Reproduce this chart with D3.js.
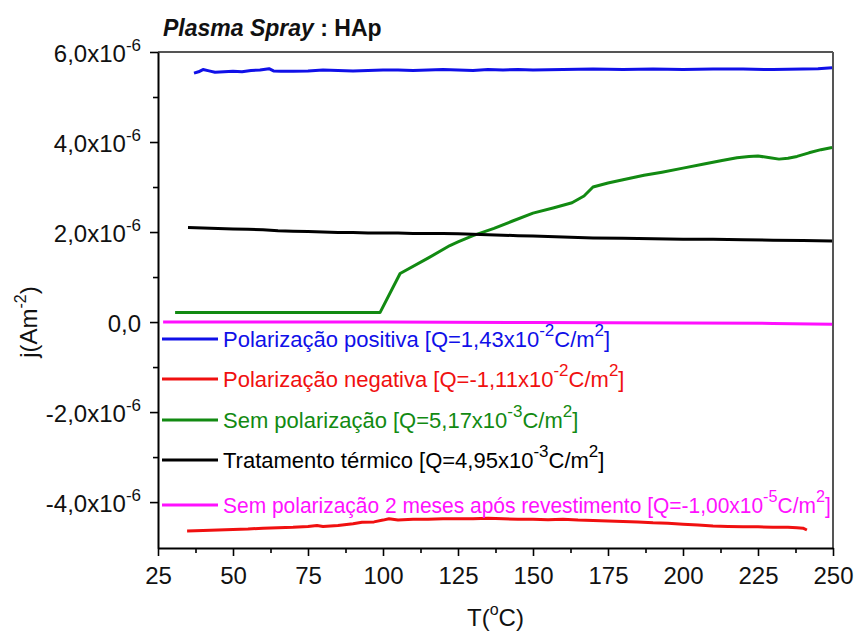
<!DOCTYPE html>
<html>
<head>
<meta charset="utf-8">
<script src="https://cdn.jsdelivr.net/npm/d3@7"></script>
<style>
  body { margin: 0; background: #fff; }
  text { font-family: "Liberation Sans", Arial, Helvetica, sans-serif; }
</style>
</head>
<body>
<svg id="chart" width="856" height="635"></svg>
<script>
// Current density j in units of 1e-6 A/m^2 against temperature T (°C)

// Polarização positiva
const tPositive = [37, 38.5, 40, 42, 44, 47, 50, 53, 56, 59, 62, 63.5, 66, 70, 75, 80, 85, 90, 95, 100,
  105, 110, 115, 120, 125, 130, 135, 140, 145, 150, 160, 170, 180, 190, 200, 210, 220, 230, 240, 245, 249.7];
const jPositive = [5.53, 5.56, 5.61, 5.58, 5.55, 5.56, 5.57, 5.56, 5.59, 5.60, 5.63, 5.58, 5.57, 5.57, 5.58,
  5.60, 5.59, 5.58, 5.59, 5.60, 5.60, 5.59, 5.60, 5.61, 5.60, 5.59, 5.61, 5.60, 5.61, 5.60, 5.61, 5.62,
  5.61, 5.62, 5.61, 5.62, 5.62, 5.61, 5.62, 5.63, 5.65];

// Polarização negativa
const tNegative = [34.7, 40, 45, 50, 55, 60, 65, 70, 75, 78, 80, 85, 90, 93, 97, 100, 102, 105, 110, 115,
  120, 125, 130, 135, 140, 145, 150, 155, 160, 165, 170, 175, 180, 185, 190, 195, 200, 205, 210, 215,
  220, 225, 230, 235, 238, 240, 241.3];
const jNegative = [-4.64, -4.63, -4.62, -4.61, -4.60, -4.58, -4.57, -4.56, -4.54, -4.52, -4.54, -4.52,
  -4.48, -4.45, -4.44, -4.40, -4.37, -4.40, -4.38, -4.38, -4.37, -4.37, -4.37, -4.36, -4.37, -4.38,
  -4.38, -4.39, -4.38, -4.40, -4.41, -4.42, -4.43, -4.44, -4.46, -4.47, -4.49, -4.51, -4.53, -4.54,
  -4.55, -4.55, -4.56, -4.56, -4.57, -4.58, -4.62];

// Sem polarização
const tNone = [30.7, 60, 99, 105.7, 115, 122.3, 125, 130, 137, 143, 150, 157, 163, 167, 170, 175, 180,
  187, 193, 200, 207, 213, 218, 222, 225, 229, 232, 235, 238, 242, 246, 249.7];
const jNone = [0.21, 0.21, 0.21, 1.08, 1.42, 1.70, 1.78, 1.92, 2.08, 2.24, 2.42, 2.54, 2.65, 2.80, 3.00,
  3.09, 3.16, 3.26, 3.33, 3.42, 3.51, 3.59, 3.65, 3.68, 3.69, 3.65, 3.62, 3.64, 3.68, 3.76, 3.83, 3.88];

// Tratamento térmico
const tThermal = [35, 40, 45, 50, 55, 60, 65, 70, 75, 80, 85, 90, 95, 100, 105, 110, 115, 120, 125, 130,
  135, 140, 145, 150, 160, 170, 180, 190, 200, 210, 220, 230, 240, 249.7];
const jThermal = [2.10, 2.09, 2.08, 2.07, 2.06, 2.05, 2.03, 2.02, 2.01, 2.00, 1.99, 1.99, 1.98, 1.98,
  1.98, 1.97, 1.97, 1.97, 1.96, 1.95, 1.94, 1.93, 1.92, 1.91, 1.89, 1.87, 1.86, 1.85, 1.84, 1.84, 1.83,
  1.82, 1.81, 1.80];

// Sem polarização 2 meses após revestimento
const tAged = [26.7, 50, 100, 150, 200, 230, 249.7];
const jAged = [0.0, 0.0, 0.0, -0.01, -0.02, -0.03, -0.05];

// Legend entries: label text, charge mantissa and exponent
const legendNames = ["Polarização positiva", "Polarização negativa", "Sem polarização",
  "Tratamento térmico", "Sem polarização 2 meses após revestimento"];
const legendCharges = ["1,43", "-1,11", "5,17", "4,95", "-1,00"];
const legendExponents = ["-2", "-2", "-3", "-3", "-5"];

const xTicks = [25, 50, 75, 100, 125, 150, 175, 200, 225, 250];
const yTicks = [6, 4, 2, 0, -2, -4];
const yTickMantissa = ["6,0", "4,0", "2,0", "0,0", "-2,0", "-4,0"];

const colors = { positive: "#1010e8", negative: "#f01010", none: "#128a12", thermal: "#000000", aged: "#ff10ff" };

const svg = d3.select("#chart");
const plotLeft = 158, plotRight = 833, plotTop = 52, plotBottom = 548;

const x = d3.scaleLinear().domain([25, 250]).range([plotLeft, plotRight]);
const y = d3.scaleLinear().domain([-5.02, 6]).range([plotBottom, plotTop]);

// Frame: top and right edges
svg.append("line").attr("x1", plotLeft).attr("x2", plotRight).attr("y1", plotTop).attr("y2", plotTop)
  .attr("stroke", "#555").attr("stroke-width", 2);
svg.append("line").attr("x1", plotRight).attr("x2", plotRight).attr("y1", plotTop).attr("y2", plotBottom)
  .attr("stroke", "#555").attr("stroke-width", 2);

// Y axis, major and minor ticks
const yMinor = [5, 3, 1, -1, -3];
svg.append("g").attr("transform", `translate(${plotLeft},0)`)
  .call(d3.axisLeft(y).tickValues(yMinor).tickSize(5).tickSizeOuter(0).tickFormat(""))
  .call(g => g.select(".domain").remove())
  .call(g => g.selectAll("line").attr("stroke", "#000").attr("stroke-width", 1.6));

const yAxis = svg.append("g").attr("transform", `translate(${plotLeft},0)`)
  .call(d3.axisLeft(y).tickValues(yTicks).tickSize(8).tickSizeOuter(0).tickPadding(9).tickFormat(""));
yAxis.select(".domain").attr("stroke", "#000").attr("stroke-width", 2);
yAxis.selectAll("line").attr("stroke", "#000").attr("stroke-width", 1.6);
yAxis.selectAll(".tick text").each(function (d, i) {
  const t = d3.select(this).attr("font-size", 24).attr("fill", "#111").attr("dy", "0.4em")
    .attr("font-family", "'Liberation Sans', Arial, sans-serif");
  t.append("tspan").text(d === 0 ? "0,0" : yTickMantissa[i] + "x10");
  if (d !== 0) {
    t.append("tspan").attr("font-size", 17).attr("dy", -11).text("-6");
  }
});

// X axis, major and minor ticks
const xMinor = d3.range(37.5, 250, 25);
svg.append("g").attr("transform", `translate(0,${plotBottom})`)
  .call(d3.axisBottom(x).tickValues(xMinor).tickSize(5).tickSizeOuter(0).tickFormat(""))
  .call(g => g.select(".domain").remove())
  .call(g => g.selectAll("line").attr("stroke", "#000").attr("stroke-width", 1.6));

const xAxis = svg.append("g").attr("transform", `translate(0,${plotBottom})`)
  .call(d3.axisBottom(x).tickValues(xTicks).tickSize(8).tickSizeOuter(0).tickPadding(11));
xAxis.select(".domain").attr("stroke", "#000").attr("stroke-width", 2);
xAxis.selectAll("line").attr("stroke", "#000").attr("stroke-width", 1.6);
xAxis.selectAll("text").attr("font-size", 24).attr("fill", "#111")
  .attr("font-family", "'Liberation Sans', Arial, sans-serif");

// Axis titles
const xTitle = svg.append("text").attr("x", (plotLeft + plotRight) / 2).attr("y", 626)
  .attr("text-anchor", "middle").attr("font-size", 24).attr("fill", "#111");
xTitle.append("tspan").text("T(");
xTitle.append("tspan").attr("font-size", 16).attr("dy", -11).text("o");
xTitle.append("tspan").attr("dy", 11).text("C)");

const yTitle = svg.append("text").attr("transform", `translate(37,${y(0)}) rotate(-90)`)
  .attr("text-anchor", "middle").attr("font-size", 24).attr("fill", "#111");
yTitle.append("tspan").text("j(Am");
yTitle.append("tspan").attr("font-size", 16).attr("dy", -11).text("-2");
yTitle.append("tspan").attr("dy", 11).text(")");

// Chart title
const title = svg.append("text").attr("x", 163).attr("y", 36)
  .attr("font-size", 23).attr("font-weight", "bold").attr("fill", "#111");
title.append("tspan").attr("font-style", "italic").text("Plasma Spray");
title.append("tspan").text(" : HAp");

// Data curves
const series = [
  { t: tPositive, j: jPositive, color: colors.positive },
  { t: tNegative, j: jNegative, color: colors.negative },
  { t: tNone, j: jNone, color: colors.none },
  { t: tThermal, j: jThermal, color: colors.thermal },
  { t: tAged, j: jAged, color: colors.aged }
];
const line = d3.line().x(d => x(d[0])).y(d => y(d[1]));
svg.append("g").selectAll("path")
  .data(series)
  .join("path")
  .attr("d", s => line(s.t.map((tv, i) => [tv, s.j[i]])))
  .attr("fill", "none")
  .attr("stroke", s => s.color)
  .attr("stroke-width", 3)
  .attr("stroke-linejoin", "round");

// Legend: each label is narrowed if it would run past the right edge of the frame
const legendY = [339, 379, 420, 460, 505];
const legendX = 162, labelX = 61;
const legend = svg.append("g");
series.forEach((s, i) => {
  const row = legend.append("g").attr("transform", `translate(${legendX},${legendY[i]})`);
  row.append("line").attr("x1", 0).attr("x2", 56).attr("y1", 0).attr("y2", 0)
    .attr("stroke", s.color).attr("stroke-width", 3);
  const txt = row.append("text").attr("x", 0).attr("y", 8).attr("font-size", 22).attr("fill", s.color);
  txt.append("tspan").text(`${legendNames[i]} [Q=${legendCharges[i]}x10`);
  txt.append("tspan").attr("font-size", 17).attr("dy", -11).text(legendExponents[i]);
  txt.append("tspan").attr("dy", 11).text("C/m");
  txt.append("tspan").attr("font-size", 17).attr("dy", -11).text("2");
  txt.append("tspan").attr("dy", 11).text("]");
  const room = plotRight - 2 - (legendX + labelX);
  const width = txt.node().getComputedTextLength();
  const k = width > room ? room / width : 1;
  txt.attr("transform", `translate(${labelX},0) scale(${k},1)`);
});
</script>
</body>
</html>
